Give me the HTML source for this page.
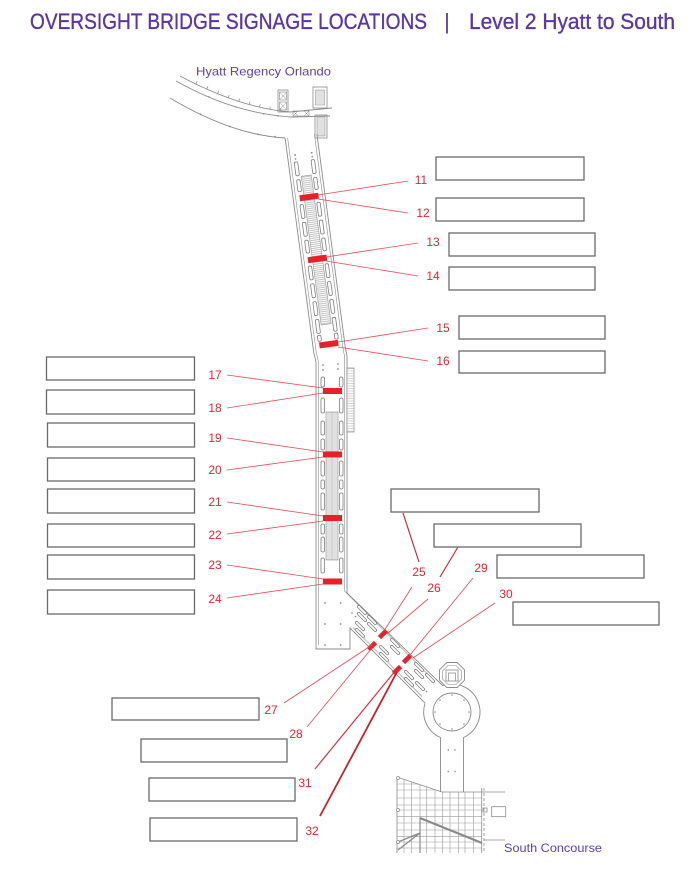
<!DOCTYPE html>
<html><head><meta charset="utf-8">
<style>
html,body{margin:0;padding:0;background:#fff;}
svg{display:block;}
</style></head><body>
<svg width="696" height="872" viewBox="0 0 696 872" xmlns="http://www.w3.org/2000/svg">
<defs>
<pattern id="hat" width="6" height="2" patternUnits="userSpaceOnUse"><rect width="6" height="2" fill="#fff"/><line x1="0" y1="1" x2="6" y2="1" stroke="#9a9a9a" stroke-width="0.6"/></pattern>
<pattern id="hat2" width="6" height="2.5" patternUnits="userSpaceOnUse"><rect width="6" height="2.5" fill="#fff"/><line x1="0" y1="1" x2="6" y2="1" stroke="#b0b0b0" stroke-width="0.5"/></pattern>
<clipPath id="sc"><polygon points="397,777 442,792 482,792 482,853 397,853"/></clipPath>
</defs>
<rect width="696" height="872" fill="#fff"/>

<!-- Title -->
<g font-family="'Liberation Sans', sans-serif" fill="#5b35a6" stroke="#5b35a6" stroke-width="0.35">
<text x="30" y="29" font-size="22" textLength="397" lengthAdjust="spacingAndGlyphs">OVERSIGHT BRIDGE SIGNAGE LOCATIONS</text>
<text x="447" y="29" font-size="22" text-anchor="middle" stroke-width="0">|</text>
<text x="469" y="29" font-size="22" textLength="206" lengthAdjust="spacingAndGlyphs">Level 2 Hyatt to South</text>
</g>
<g font-family="'Liberation Sans', sans-serif" fill="#5a40b2" font-size="12">
<text x="196" y="75.5" textLength="135" lengthAdjust="spacingAndGlyphs">Hyatt Regency Orlando</text>
<text x="504" y="852" textLength="98" lengthAdjust="spacingAndGlyphs">South Concourse</text>
</g>

<!-- Hyatt building arcs -->
<g fill="none" stroke="#8a8a8a" stroke-width="0.9">
<path d="M180,76 Q240,108 290,112 L332,108"/>
<path d="M176,81 Q235,114 292,117 L330,116"/>
<path d="M170,98 Q232,135 285,138"/>
<g stroke-width="0.7">
<line x1="195.9" y1="83.7" x2="197.3" y2="81.1"/>
<line x1="206.8" y1="89" x2="208" y2="86.2"/>
<line x1="217.5" y1="93.7" x2="218.7" y2="90.9"/>
<line x1="228.2" y1="97.8" x2="229.2" y2="95"/>
<line x1="238.7" y1="101.5" x2="239.7" y2="98.6"/>
<line x1="249.2" y1="104.6" x2="250" y2="101.7"/>
<line x1="259.5" y1="107.3" x2="260.2" y2="104.3"/>
<line x1="269.8" y1="109.4" x2="270.3" y2="106.4"/>
<line x1="280" y1="110.9" x2="280.3" y2="108"/>
</g>
<rect x="278" y="90" width="10" height="22" stroke-width="0.8"/>
<rect x="279.5" y="92" width="7" height="8" stroke-width="0.6"/>
<rect x="279.5" y="102" width="7" height="8" stroke-width="0.6"/>
<path d="M279.5,92 L286.5,100 M286.5,92 L279.5,100 M279.5,102 L286.5,110 M286.5,102 L279.5,110" stroke-width="0.5"/>
<rect x="313" y="87" width="14" height="21" stroke-width="0.8"/>
<rect x="315.5" y="90" width="9" height="15" fill="url(#hat)" stroke-width="0.5"/>
<rect x="315" y="115" width="12" height="23" stroke-width="0.8"/>
<rect x="317" y="117" width="8" height="19" fill="url(#hat)" stroke-width="0.5"/>
<rect x="293" y="111" width="16" height="5" stroke-width="0.6"/>
<path d="M293,111 L298,116 M298,111 L293,116 M304,111 L309,116 M309,111 L304,116" stroke-width="0.5"/>
</g>
<g fill="#8a8a8a">
<circle cx="200.4" cy="114.3" r="0.9"/><circle cx="229.7" cy="126.5" r="0.9"/><circle cx="257.9" cy="134.3" r="0.9"/><circle cx="275" cy="136.7" r="0.9"/>
<circle cx="208.8" cy="96.8" r="0.8"/><circle cx="236" cy="107" r="0.8"/><circle cx="263.8" cy="113.8" r="0.8"/><circle cx="278" cy="116" r="0.8"/>
</g>

<!-- Bridge walls -->
<g fill="none" stroke="#8a8a8a" stroke-width="0.9">
<polyline points="285.1,138.1 313.7,352.2 316,362 316,649 350,649 350,628 425.1,703.1"/>
<polyline points="287.6,137.8 316.2,351.9 318.5,362 318.5,645" stroke-width="0.6"/>
<polyline points="316.9,133.9 345.4,348 347,356 347,593 442.6,685.6"/>
<polyline points="314.4,134.2 343,348.3 344.5,356 344.5,591 435,681.5" stroke-width="0.6"/>
<line x1="353" y1="627.5" x2="422" y2="696.5" stroke-width="0.6"/>
<path d="M442.6,685.6 A28,28 0 0 1 463.5,737.5 L463.5,792"/>
<path d="M425.1,703.1 A28,28 0 0 0 440.5,737.5 L440.5,792"/>
<circle cx="452" cy="712" r="19"/>
<!-- stair on right of vertical section -->
<rect x="347" y="368" width="7" height="64" fill="url(#hat2)" stroke-width="0.7"/>
<!-- octagon -->
<polygon points="464.5,680.2 457.2,687.5 446.8,687.5 439.5,680.2 439.5,669.8 446.8,662.5 457.2,662.5 464.5,669.8" fill="#fff"/>
<polygon points="461.5,679 456,684.5 448,684.5 442.5,679 442.5,671 448,665.5 456,665.5 461.5,671" stroke-width="0.6"/>
<rect x="446" y="670" width="12" height="11" stroke-width="0.8"/>
<path d="M448.5,681 L448.5,673 L455.5,673 L455.5,681" stroke-width="0.7"/>
</g>
<g fill="#8a8a8a">
<circle cx="469" cy="712" r="0.8"/><circle cx="464" cy="724" r="0.8"/><circle cx="452" cy="729" r="0.8"/><circle cx="440" cy="724" r="0.8"/>
<circle cx="435" cy="712" r="0.8"/><circle cx="440" cy="700" r="0.8"/><circle cx="452" cy="695" r="0.8"/><circle cx="464" cy="700" r="0.8"/>
<circle cx="448.3" cy="750" r="0.8"/><circle cx="455" cy="750" r="0.8"/><circle cx="448.3" cy="771.5" r="0.8"/><circle cx="455" cy="771.5" r="0.8"/>
<circle cx="323" cy="365" r="0.9"/><circle cx="323" cy="370" r="0.9"/><circle cx="338" cy="364" r="0.9"/><circle cx="338" cy="369" r="0.9"/>
<circle cx="325" cy="603" r="0.9"/><circle cx="340.7" cy="603" r="0.9"/>
<circle cx="325" cy="624" r="0.9"/><circle cx="340.7" cy="624" r="0.9"/>
<circle cx="325" cy="645" r="0.9"/><circle cx="340.7" cy="645" r="0.9"/>
<circle cx="352" cy="613" r="0.8"/><circle cx="355.5" cy="616.5" r="0.8"/>
<circle cx="422" cy="688" r="0.8"/><circle cx="426.5" cy="691.5" r="0.8"/>
</g>

<!-- Slanted section interior -->
<g transform="translate(301,136) rotate(-7.6)">
<g fill="#8a8a8a"><circle cx="-8.4" cy="18" r="0.9"/><circle cx="8.4" cy="18" r="0.9"/><circle cx="-8.4" cy="22" r="0.8"/><circle cx="8.4" cy="22" r="0.8"/></g>
<rect x="-5" y="40" width="10" height="150" fill="url(#hat)" stroke="#999" stroke-width="0.6"/>
<g fill="#fff" stroke="#7d7d7d" stroke-width="0.8">
<rect x="-10.25" y="25" width="3.5" height="14" rx="1.5"/><rect x="6.75" y="25" width="3.5" height="14" rx="1.5"/>
<rect x="-10.25" y="43" width="3.5" height="12" rx="1.5"/><rect x="6.75" y="43" width="3.5" height="12" rx="1.5"/>
<rect x="-10.25" y="68" width="3.5" height="14" rx="1.5"/><rect x="6.75" y="68" width="3.5" height="14" rx="1.5"/>
<rect x="-10.25" y="86" width="3.5" height="14" rx="1.5"/><rect x="6.75" y="86" width="3.5" height="14" rx="1.5"/>
<rect x="-10.25" y="104" width="3.5" height="13" rx="1.5"/><rect x="6.75" y="104" width="3.5" height="13" rx="1.5"/>
<rect x="-10.25" y="130" width="3.5" height="14" rx="1.5"/><rect x="6.75" y="130" width="3.5" height="14" rx="1.5"/>
<rect x="-10.25" y="148" width="3.5" height="14" rx="1.5"/><rect x="6.75" y="148" width="3.5" height="14" rx="1.5"/>
<rect x="-10.25" y="166" width="3.5" height="14" rx="1.5"/><rect x="6.75" y="166" width="3.5" height="14" rx="1.5"/>
<rect x="-10.25" y="184" width="3.5" height="14" rx="1.5"/><rect x="6.75" y="184" width="3.5" height="14" rx="1.5"/>
<rect x="-10.25" y="200" width="3.5" height="6" rx="1.5"/><rect x="6.75" y="200" width="3.5" height="6" rx="1.5"/>
</g>
<g fill="#e8202a">
<rect x="-9.5" y="58.5" width="19" height="6"/>
<rect x="-9.5" y="121" width="19" height="6"/>
<rect x="-9.5" y="207" width="19" height="6"/>
</g>
</g>

<!-- Vertical section interior -->
<rect x="326" y="412" width="12" height="148" fill="url(#hat)" stroke="#999" stroke-width="0.6"/>
<line x1="332" y1="412" x2="332" y2="560" stroke="#aaa" stroke-width="0.4"/>
<g fill="#fff" stroke="#7d7d7d" stroke-width="0.8">
<rect x="321" y="377" width="3.5" height="10" rx="1.5"/><rect x="339.5" y="377" width="3.5" height="10" rx="1.5"/>
<rect x="321" y="398" width="3.5" height="15" rx="1.5"/><rect x="339.5" y="398" width="3.5" height="15" rx="1.5"/>
<rect x="321" y="421" width="3.5" height="14" rx="1.5"/><rect x="339.5" y="421" width="3.5" height="14" rx="1.5"/>
<rect x="321" y="439" width="3.5" height="11" rx="1.5"/><rect x="339.5" y="439" width="3.5" height="11" rx="1.5"/>
<rect x="321" y="461" width="3.5" height="15" rx="1.5"/><rect x="339.5" y="461" width="3.5" height="15" rx="1.5"/>
<rect x="321" y="480" width="3.5" height="9" rx="1.5"/><rect x="339.5" y="480" width="3.5" height="9" rx="1.5"/>
<rect x="321" y="493" width="3.5" height="17" rx="1.5"/><rect x="339.5" y="493" width="3.5" height="17" rx="1.5"/>
<rect x="321" y="524" width="3.5" height="10" rx="1.5"/><rect x="339.5" y="524" width="3.5" height="10" rx="1.5"/>
<rect x="321" y="537" width="3.5" height="15" rx="1.5"/><rect x="339.5" y="537" width="3.5" height="15" rx="1.5"/>
<rect x="321" y="558" width="3.5" height="15" rx="1.5"/><rect x="339.5" y="558" width="3.5" height="15" rx="1.5"/>
</g>
<g fill="#e8202a">
<rect x="323" y="388" width="19" height="6"/>
<rect x="323" y="451.5" width="19" height="6"/>
<rect x="323" y="515" width="19" height="6"/>
<rect x="323" y="578.5" width="19" height="6"/>
</g>

<!-- Ramp pills -->
<g fill="#fff" stroke="#7d7d7d" stroke-width="0.8">
<rect x="-6" y="-1.3" width="12" height="2.6" rx="1.3" transform="translate(362,610) rotate(45)"/>
<rect x="-6" y="-1.3" width="12" height="2.6" rx="1.3" transform="translate(362,617) rotate(45)"/>
<rect x="-6" y="-1.3" width="12" height="2.6" rx="1.3" transform="translate(372,620) rotate(45)"/>
<rect x="-6" y="-1.3" width="12" height="2.6" rx="1.3" transform="translate(372,627) rotate(45)"/>
<rect x="-6" y="-1.3" width="12" height="2.6" rx="1.3" transform="translate(395,643) rotate(45)"/>
<rect x="-6" y="-1.3" width="12" height="2.6" rx="1.3" transform="translate(395,650) rotate(45)"/>
<rect x="-6" y="-1.3" width="12" height="2.6" rx="1.3" transform="translate(419,667) rotate(45)"/>
<rect x="-6" y="-1.3" width="12" height="2.6" rx="1.3" transform="translate(419,674) rotate(45)"/>
<rect x="-6" y="-1.3" width="12" height="2.6" rx="1.3" transform="translate(430,678) rotate(45)"/>
<rect x="-6" y="-1.3" width="12" height="2.6" rx="1.3" transform="translate(360,626) rotate(45)"/>
<rect x="-6" y="-1.3" width="12" height="2.6" rx="1.3" transform="translate(360,633) rotate(45)"/>
<rect x="-6" y="-1.3" width="12" height="2.6" rx="1.3" transform="translate(384,650) rotate(45)"/>
<rect x="-6" y="-1.3" width="12" height="2.6" rx="1.3" transform="translate(384,657) rotate(45)"/>
<rect x="-6" y="-1.3" width="12" height="2.6" rx="1.3" transform="translate(409,675) rotate(45)"/>
<rect x="-6" y="-1.3" width="12" height="2.6" rx="1.3" transform="translate(409,682) rotate(45)"/>
<rect x="-6" y="-1.3" width="12" height="2.6" rx="1.3" transform="translate(420,686) rotate(45)"/>
</g>
<g fill="#e8202a">
<rect x="-5" y="-2.3" width="10" height="4.6" transform="translate(383,634) rotate(-45)"/>
<rect x="-5" y="-2.3" width="10" height="4.6" transform="translate(372,646) rotate(-45)"/>
<rect x="-5" y="-2.3" width="10" height="4.6" transform="translate(407,659) rotate(-45)"/>
<rect x="-5" y="-2.3" width="10" height="4.6" transform="translate(397,670) rotate(-45)"/>
</g>

<!-- South Concourse -->
<g fill="none" stroke="#8a8a8a" stroke-width="0.8">
<g clip-path="url(#sc)" stroke="#9a9a9a" stroke-width="0.6">
<line x1="404" y1="770" x2="404" y2="853"/><line x1="411.7" y1="770" x2="411.7" y2="853"/>
<line x1="420" y1="770" x2="420" y2="853"/><line x1="426.7" y1="770" x2="426.7" y2="853"/>
<line x1="435" y1="770" x2="435" y2="853"/><line x1="442.7" y1="770" x2="442.7" y2="853"/>
<line x1="450" y1="770" x2="450" y2="853"/><line x1="458.3" y1="770" x2="458.3" y2="853"/>
<line x1="465" y1="770" x2="465" y2="853"/><line x1="473.3" y1="770" x2="473.3" y2="853"/>
<line x1="397" y1="784" x2="482" y2="784"/><line x1="397" y1="790" x2="482" y2="790"/>
<line x1="397" y1="798" x2="482" y2="798"/><line x1="397" y1="805" x2="482" y2="805"/>
<line x1="397" y1="810" x2="482" y2="810"/><line x1="397" y1="816.7" x2="482" y2="816.7"/>
<line x1="397" y1="823" x2="482" y2="823"/><line x1="397" y1="830" x2="482" y2="830"/>
<line x1="397" y1="836.7" x2="482" y2="836.7"/><line x1="397" y1="842" x2="482" y2="842"/>
<line x1="397" y1="848" x2="482" y2="848"/>
</g>
<polyline points="397,853 397,777 442,792 505,792"/>
<line x1="481.7" y1="788" x2="481.7" y2="853"/>
<line x1="484" y1="788" x2="484" y2="853" stroke-dasharray="3,2"/>
<line x1="420" y1="818" x2="482" y2="843" stroke-width="2.2" stroke="#8a8a8a"/>
<line x1="420" y1="818" x2="420" y2="853" stroke-width="1.2"/>
<polyline points="398,842 420,833 398,850" stroke-width="1.3"/>
<rect x="483" y="808" width="4" height="4"/>
<rect x="491.7" y="806.7" width="14" height="10"/>
<line x1="484" y1="840" x2="505" y2="840"/>
<circle cx="398" cy="778" r="1.5" fill="#fff"/><circle cx="398" cy="810" r="1.5" fill="#fff"/><circle cx="398" cy="842" r="1.5" fill="#fff"/>
</g>

<!-- Connectors -->
<g stroke="#ee4b57" stroke-width="0.85" fill="none">
<line x1="408" y1="181" x2="318" y2="195"/>
<line x1="408" y1="213" x2="318" y2="199"/>
<line x1="418" y1="243" x2="326" y2="257"/>
<line x1="418" y1="276" x2="326" y2="261"/>
<line x1="428" y1="328" x2="338" y2="342"/>
<line x1="428" y1="361" x2="338" y2="347"/>
<line x1="227" y1="375" x2="323" y2="388"/>
<line x1="227" y1="408" x2="323" y2="393"/>
<line x1="227" y1="438" x2="323" y2="452"/>
<line x1="227" y1="470" x2="323" y2="457"/>
<line x1="227" y1="502" x2="323" y2="516"/>
<line x1="227" y1="534" x2="323" y2="521"/>
<line x1="227" y1="565" x2="323" y2="579"/>
<line x1="227" y1="598" x2="323" y2="584"/>
<line x1="412" y1="587" x2="384" y2="631"/>
<line x1="428" y1="599" x2="387" y2="634"/>
<line x1="284" y1="703" x2="372" y2="645"/>
<line x1="307" y1="727" x2="372" y2="648"/>
<line x1="473" y1="578" x2="410" y2="655"/>
<line x1="495" y1="603" x2="413" y2="658"/>
</g>
<g stroke="#cc2a33" fill="none">
<line x1="403" y1="513" x2="419" y2="562" stroke-width="1.2"/>
<line x1="458" y1="547" x2="440" y2="577" stroke-width="1.2"/>
<line x1="315" y1="769" x2="396" y2="670" stroke-width="1.2" stroke="#e0303a"/>
<line x1="320" y1="816" x2="397" y2="672" stroke-width="1.8" stroke="#c8222b"/>
</g>

<!-- Labels -->
<g font-family="'Liberation Sans', sans-serif" font-size="12" fill="#e9232e" text-anchor="middle">
<text x="421" y="184">11</text>
<text x="423" y="217">12</text>
<text x="433" y="246">13</text>
<text x="433" y="280">14</text>
<text x="443" y="332">15</text>
<text x="443" y="365">16</text>
<text x="215" y="379">17</text>
<text x="215" y="412">18</text>
<text x="215" y="442">19</text>
<text x="215" y="474">20</text>
<text x="215" y="506">21</text>
<text x="215" y="539">22</text>
<text x="215" y="569">23</text>
<text x="215" y="603">24</text>
<text x="419" y="576">25</text>
<text x="434" y="592">26</text>
<text x="271" y="714">27</text>
<text x="296" y="738">28</text>
<text x="481" y="572">29</text>
<text x="506" y="598">30</text>
<text x="305" y="787">31</text>
<text x="312" y="835">32</text>
</g>

<!-- Boxes -->
<g fill="#fff" stroke="#6a6a6a" stroke-width="1.3">
<rect x="436" y="157" width="148" height="23"/>
<rect x="436" y="198" width="148" height="23"/>
<rect x="449" y="233" width="146" height="23"/>
<rect x="449" y="267" width="146" height="23"/>
<rect x="459" y="316" width="146" height="23"/>
<rect x="459" y="351" width="146" height="22"/>
<rect x="46.5" y="357" width="148" height="23"/>
<rect x="46.5" y="390" width="148" height="24"/>
<rect x="47.5" y="423" width="147" height="24"/>
<rect x="47.5" y="458" width="147" height="23"/>
<rect x="47.5" y="489" width="147" height="24"/>
<rect x="47.5" y="524" width="147" height="23"/>
<rect x="47.5" y="555" width="147" height="24"/>
<rect x="47.5" y="590" width="147" height="24"/>
<rect x="391" y="489" width="148" height="23"/>
<rect x="434" y="524" width="147" height="23"/>
<rect x="497" y="555" width="147" height="23"/>
<rect x="513" y="602" width="146" height="23"/>
<rect x="112" y="698" width="147" height="22"/>
<rect x="141" y="739" width="146" height="23"/>
<rect x="149" y="778" width="146" height="23"/>
<rect x="150" y="818" width="147" height="23"/>
</g>
</svg>
</body></html>
